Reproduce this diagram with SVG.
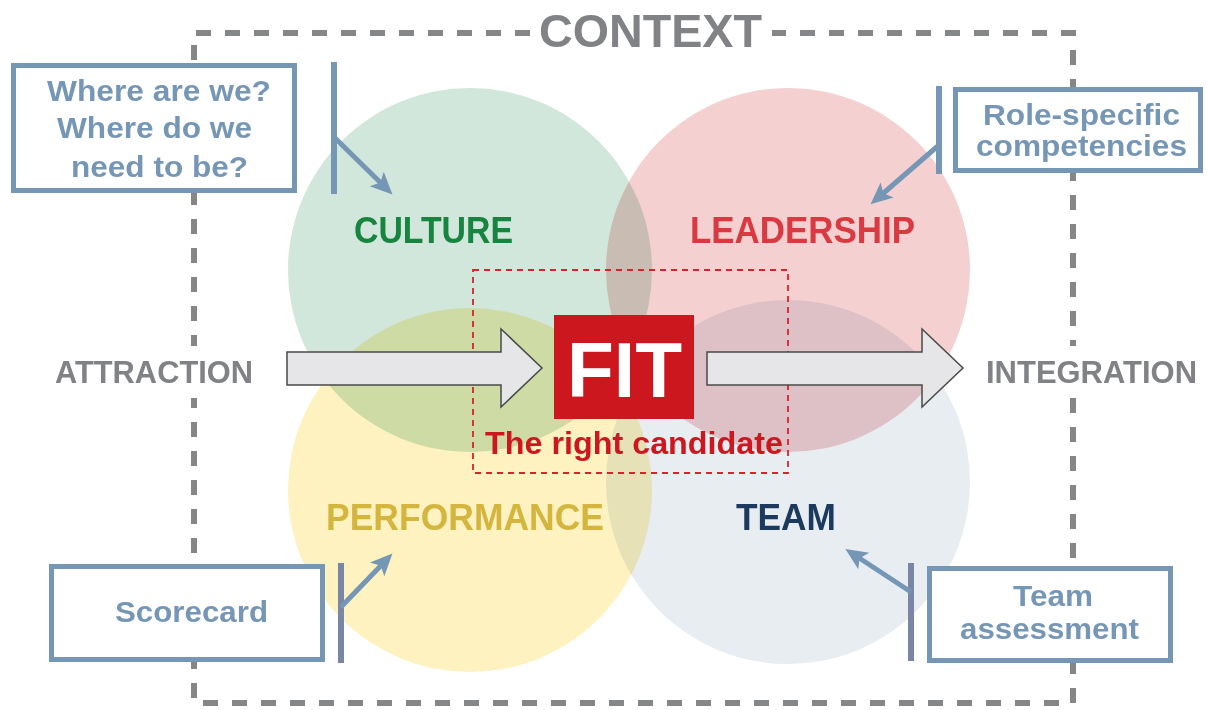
<svg xmlns="http://www.w3.org/2000/svg" width="1206" height="710" viewBox="0 0 1206 710">
  <style>
    text { font-family: "Liberation Sans", Arial, sans-serif; font-weight: bold; }
    .frame { fill: none; stroke: #858688; stroke-width: 6; stroke-dasharray: 15 14; }
    .circle { mix-blend-mode: multiply; }
    .stage { fill: #808285; font-size: 32px; }
    .stage-bg { fill: #ffffff; }
    .area { font-size: 37px; }
    .note { fill: #ffffff; stroke: #7696b6; stroke-width: 5; }
    .note-text { fill: #7696b6; font-size: 30px; }
    .bar { stroke: #7696b6; stroke-width: 6; }
    .bar-dark { stroke: #7a86a6; stroke-width: 6; }
    .pointer { stroke: #7696b6; stroke-width: 5; fill: none; marker-end: url(#head); }
    .flow { fill: #e6e6e8; stroke: #4a4a4a; stroke-width: 1.5; stroke-linejoin: miter; }
  </style>
  <defs>
    <marker id="head" markerUnits="strokeWidth" markerWidth="5" markerHeight="4.4" refX="2" refY="2" orient="auto" overflow="visible">
      <path d="M0,0 L4.4,2 L0,4 L1,2 z" fill="#7696b6"/>
    </marker>
  </defs>

  <rect width="1206" height="710" fill="#ffffff"/>

  <!-- context frame, open at the top for the title -->
  <g id="context">
    <path class="frame" d="M530,33 H194 V703 H1073 V33 H772"/>
    <text x="539" y="47" font-size="46" fill="#808285" textLength="223" lengthAdjust="spacingAndGlyphs">CONTEXT</text>
  </g>

  <!-- four overlapping areas -->
  <g id="areas" style="isolation:isolate">
    <circle id="culture-circle" class="circle" cx="470" cy="270" r="182" fill="#d1e7db"/>
    <circle id="leadership-circle" class="circle" cx="788" cy="270" r="182" fill="#f4d0d1"/>
    <circle id="performance-circle" class="circle" cx="470" cy="490" r="182" fill="#fdf2c0"/>
    <circle id="team-circle" class="circle" cx="788" cy="482" r="182" fill="#e8edf2"/>
  </g>

  <g id="labels">
    <text class="area" x="354" y="243" fill="#178440" textLength="159" lengthAdjust="spacingAndGlyphs">CULTURE</text>
    <text class="area" x="690" y="243" fill="#d93a42" textLength="225" lengthAdjust="spacingAndGlyphs">LEADERSHIP</text>
    <text class="area" x="326" y="530" fill="#d4b63f" textLength="278" lengthAdjust="spacingAndGlyphs">PERFORMANCE</text>
    <text class="area" x="736" y="530" fill="#1b3a5e" textLength="100" lengthAdjust="spacingAndGlyphs">TEAM</text>
  </g>

  <!-- fit zone -->
  <g id="fit-zone">
    <rect x="473" y="270" width="315" height="203" fill="none" stroke="#d9232b" stroke-width="1.8" stroke-dasharray="6 5"/>
  </g>

  <g id="connectors">
    <polygon id="flow-in" class="flow" points="287,352 501,352 501,329 542,368 501,407 501,385 287,385"/>
    <polygon id="flow-out" class="flow" points="707,352 922,352 922,329 963,368 922,407 922,385 707,385"/>
    <line class="bar" x1="334" y1="62" x2="334" y2="194"/>
    <line class="pointer" x1="334" y1="137" x2="383.9" y2="186"/>
    <line class="bar" x1="939" y1="86" x2="939" y2="174"/>
    <line class="pointer" x1="939" y1="145" x2="879.6" y2="196.5"/>
    <line class="bar-dark" x1="341" y1="563" x2="341" y2="663"/>
    <line class="pointer" x1="341" y1="607" x2="384.1" y2="562.2"/>
    <line class="bar-dark" x1="911" y1="563" x2="911" y2="661"/>
    <line class="pointer" x1="911" y1="592" x2="855.4" y2="555.5"/>
  </g>

  <g id="fit">
    <rect x="554" y="315" width="140" height="104" fill="#cc171e"/>
    <text x="567" y="397" font-size="78" fill="#ffffff" textLength="115" lengthAdjust="spacingAndGlyphs">FIT</text>
    <text x="485" y="454" font-size="32" fill="#cc171e" textLength="298" lengthAdjust="spacingAndGlyphs">The right candidate</text>
  </g>

  <g id="attraction">
    <rect class="stage-bg" x="50" y="346" width="208" height="52"/>
    <text class="stage" x="55" y="383" textLength="198" lengthAdjust="spacingAndGlyphs">ATTRACTION</text>
  </g>
  <g id="integration">
    <rect class="stage-bg" x="981" y="346" width="221" height="52"/>
    <text class="stage" x="986" y="383" textLength="211" lengthAdjust="spacingAndGlyphs">INTEGRATION</text>
  </g>

  <!-- notes -->
  <g id="note-where">
    <rect class="note" x="13.5" y="65.5" width="281" height="125"/>
    <text class="note-text" x="47" y="101" textLength="224" lengthAdjust="spacingAndGlyphs">Where are we?</text>
    <text class="note-text" x="57" y="138" textLength="195" lengthAdjust="spacingAndGlyphs">Where do we</text>
    <text class="note-text" x="71" y="177" textLength="177" lengthAdjust="spacingAndGlyphs">need to be?</text>
  </g>
  <g id="note-role">
    <rect class="note" x="955.5" y="89.5" width="245" height="81"/>
    <text class="note-text" x="983" y="125" textLength="197" lengthAdjust="spacingAndGlyphs">Role-specific</text>
    <text class="note-text" x="976" y="156" textLength="211" lengthAdjust="spacingAndGlyphs">competencies</text>
  </g>
  <g id="note-scorecard">
    <rect class="note" x="51.5" y="566.5" width="271" height="93"/>
    <text class="note-text" x="115" y="622" textLength="153" lengthAdjust="spacingAndGlyphs">Scorecard</text>
  </g>
  <g id="note-team">
    <rect class="note" x="929.5" y="568.5" width="241" height="92"/>
    <text class="note-text" x="1013" y="606" textLength="80" lengthAdjust="spacingAndGlyphs">Team</text>
    <text class="note-text" x="960" y="639" textLength="179" lengthAdjust="spacingAndGlyphs">assessment</text>
  </g>
</svg>
